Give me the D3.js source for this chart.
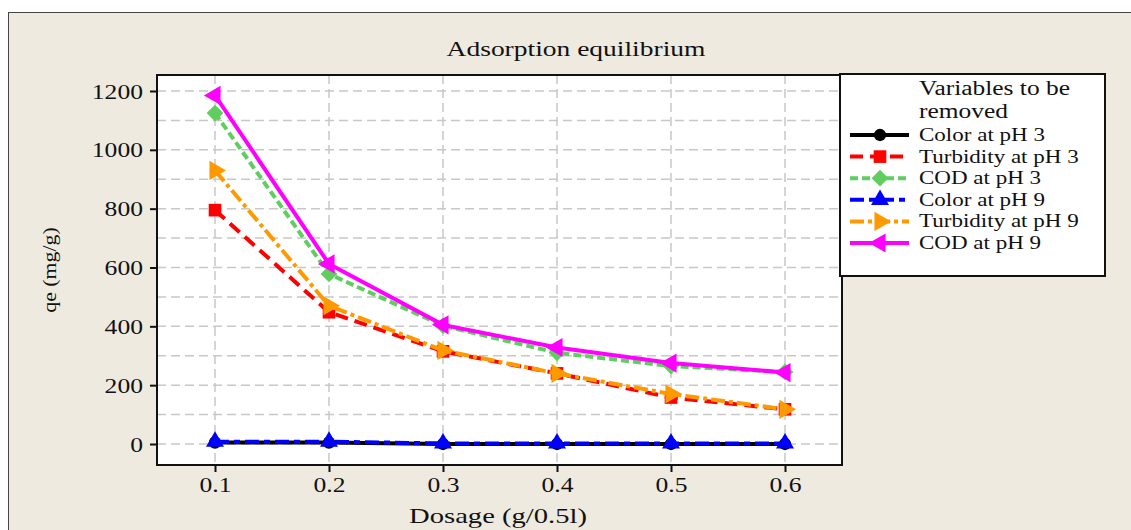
<!DOCTYPE html>
<html>
<head>
<meta charset="utf-8">
<script src="https://cdn.jsdelivr.net/npm/d3@7"></script>
<style>
  body { margin: 0; background: #fff; }
  svg text { font-family: "Liberation Serif", "DejaVu Serif", serif; fill: #111; }
</style>
</head>
<body>
<div id="chart"></div>
<script>
// data
const dosage = [0.1, 0.2, 0.3, 0.4, 0.5, 0.6];
const colorPH3 = [5, 5, 0, 0, 0, 0];
const turbidityPH3 = [795, 448, 315, 240, 158, 118];
const codPH3 = [1125, 578, 402, 310, 265, 245];
const colorPH9 = [8, 8, 2, 2, 2, 2];
const turbidityPH9 = [930, 470, 318, 240, 170, 118];
const codPH9 = [1185, 612, 405, 328, 275, 243];
const yTicks = [0, 200, 400, 600, 800, 1000, 1200];
const yGrid = d3.range(0, 1201, 100);

const series = [
    { name: "Color at pH 3", values: colorPH3, color: "#000000", dash: null, symbol: d3.symbolCircle, rot: 0, size: 120 },
    { name: "Turbidity at pH 3", values: turbidityPH3, color: "#ff0000", dash: "13,7", symbol: d3.symbolSquare, rot: 0, size: 160 },
    { name: "COD at pH 3", values: codPH3, color: "#5fce5f", dash: "8,4", symbol: d3.symbolSquare, rot: 45, size: 140 },
    { name: "Color at pH 9", values: colorPH9, color: "#0000ff", dash: "14,5,6,5", symbol: d3.symbolTriangle, rot: 0, size: 140 },
    { name: "Turbidity at pH 9", values: turbidityPH9, color: "#ff9900", dash: "14,4,4,4", symbol: d3.symbolTriangle, rot: 90, size: 160 },
    { name: "COD at pH 9", values: codPH9, color: "#ff00ff", dash: null, symbol: d3.symbolTriangle, rot: -90, size: 160 }
];

const W = 1131, H = 530;
const margin = { top: 75, left: 157 };
const width = 685, height = 390;
const SX = 1.28; // text in the picture is stretched sideways

const svg = d3.select("#chart").append("svg")
    .attr("width", W)
    .attr("height", H);

// outer frame
svg.append("rect")
    .attr("x", 8.5).attr("y", 12.5)
    .attr("width", W).attr("height", H)
    .attr("fill", "#eeeae0")
    .attr("stroke", "#444").attr("stroke-width", 1);

function stretchedText(parent, x, y, str, size, anchor, sx) {
    return parent.append("text")
        .attr("transform", `translate(${x},${y}) scale(${sx || SX},1)`)
        .attr("text-anchor", anchor || "start")
        .style("font-size", size + "px")
        .text(str);
}

// title
stretchedText(svg, 576, 56, "Adsorption equilibrium", 22, "middle", 1.25);

const g = svg.append("g")
    .attr("transform", `translate(${margin.left},${margin.top})`);

const x = d3.scaleLinear().domain([0.1, 0.6]).range([58, 628]);
const y = d3.scaleLinear().domain([0, 1200]).range([369, 16]);

g.append("rect")
    .attr("width", width).attr("height", height)
    .attr("fill", "#fff");

// grid
g.selectAll(".hgrid").data(yGrid).enter().append("line")
    .attr("x1", 0).attr("x2", width)
    .attr("y1", d => y(d)).attr("y2", d => y(d))
    .attr("stroke", "#c8c8c8").attr("stroke-width", 1.5)
    .attr("stroke-dasharray", "9,5");
g.selectAll(".vgrid").data(dosage).enter().append("line")
    .attr("y1", 0).attr("y2", height)
    .attr("x1", d => x(d)).attr("x2", d => x(d))
    .attr("stroke", "#c8c8c8").attr("stroke-width", 1.5)
    .attr("stroke-dasharray", "9,5");

// axes
const xAxis = g.append("g")
    .attr("transform", `translate(0,${height})`)
    .call(d3.axisBottom(x).tickValues(dosage).tickSize(7).tickFormat(d3.format(".1f")));
const yAxis = g.append("g")
    .call(d3.axisLeft(y).tickValues(yTicks).tickSize(7));
[xAxis, yAxis].forEach(ax => {
    ax.select(".domain").remove();
    ax.selectAll(".tick line").attr("stroke", "#111").attr("stroke-width", 2);
    ax.selectAll(".tick text").remove();
});
xAxis.selectAll(".tick").append("text")
    .attr("transform", `translate(0,27) scale(${SX},1)`)
    .attr("text-anchor", "middle")
    .style("font-size", "20px")
    .text(d => d3.format(".1f")(d));
yAxis.selectAll(".tick").append("text")
    .attr("transform", `translate(-14,7) scale(${SX},1)`)
    .attr("text-anchor", "end")
    .style("font-size", "20px")
    .text(d => d);

// lines + markers
const line = d3.line()
    .x((d, i) => x(dosage[i]))
    .y(d => y(d));

series.forEach(s => {
    g.append("path")
        .attr("d", line(s.values))
        .attr("fill", "none")
        .attr("stroke", s.color)
        .attr("stroke-width", 4)
        .attr("stroke-dasharray", s.dash);
    g.selectAll(null).data(s.values).enter().append("path")
        .attr("d", d3.symbol().type(s.symbol).size(s.size))
        .attr("transform", (d, i) => `translate(${x(dosage[i])},${y(d)}) rotate(${s.rot})`)
        .attr("fill", s.color);
});

// plot frame
g.append("rect")
    .attr("width", width).attr("height", height)
    .attr("fill", "none")
    .attr("stroke", "#111").attr("stroke-width", 2);

// axis titles
stretchedText(svg, 498, 523, "Dosage (g/0.5l)", 22, "middle", 1.3);
svg.append("text")
    .attr("transform", "translate(56,270) rotate(-90) scale(1.15,1)")
    .attr("text-anchor", "middle")
    .style("font-size", "19px")
    .text("qe (mg/g)");

// legend
const leg = svg.append("g").attr("transform", "translate(840,74)");
leg.append("rect")
    .attr("width", 265).attr("height", 202)
    .attr("fill", "#fff")
    .attr("stroke", "#111").attr("stroke-width", 2);
stretchedText(leg, 79, 21, "Variables to be", 20, "start", 1.27);
stretchedText(leg, 79, 44, "removed", 20, "start", 1.27);

series.forEach((s, i) => {
    const cy = 61 + i * 21.6;
    leg.append("line")
        .attr("x1", 10).attr("x2", 69)
        .attr("y1", cy).attr("y2", cy)
        .attr("stroke", s.color).attr("stroke-width", 4)
        .attr("stroke-dasharray", s.dash);
    leg.append("path")
        .attr("d", d3.symbol().type(s.symbol).size(s.size))
        .attr("transform", `translate(40,${cy}) rotate(${s.rot})`)
        .attr("fill", s.color);
    stretchedText(leg, 79, cy + 6, s.name, 18, "start", 1.28);
});
</script>
</body>
</html>
